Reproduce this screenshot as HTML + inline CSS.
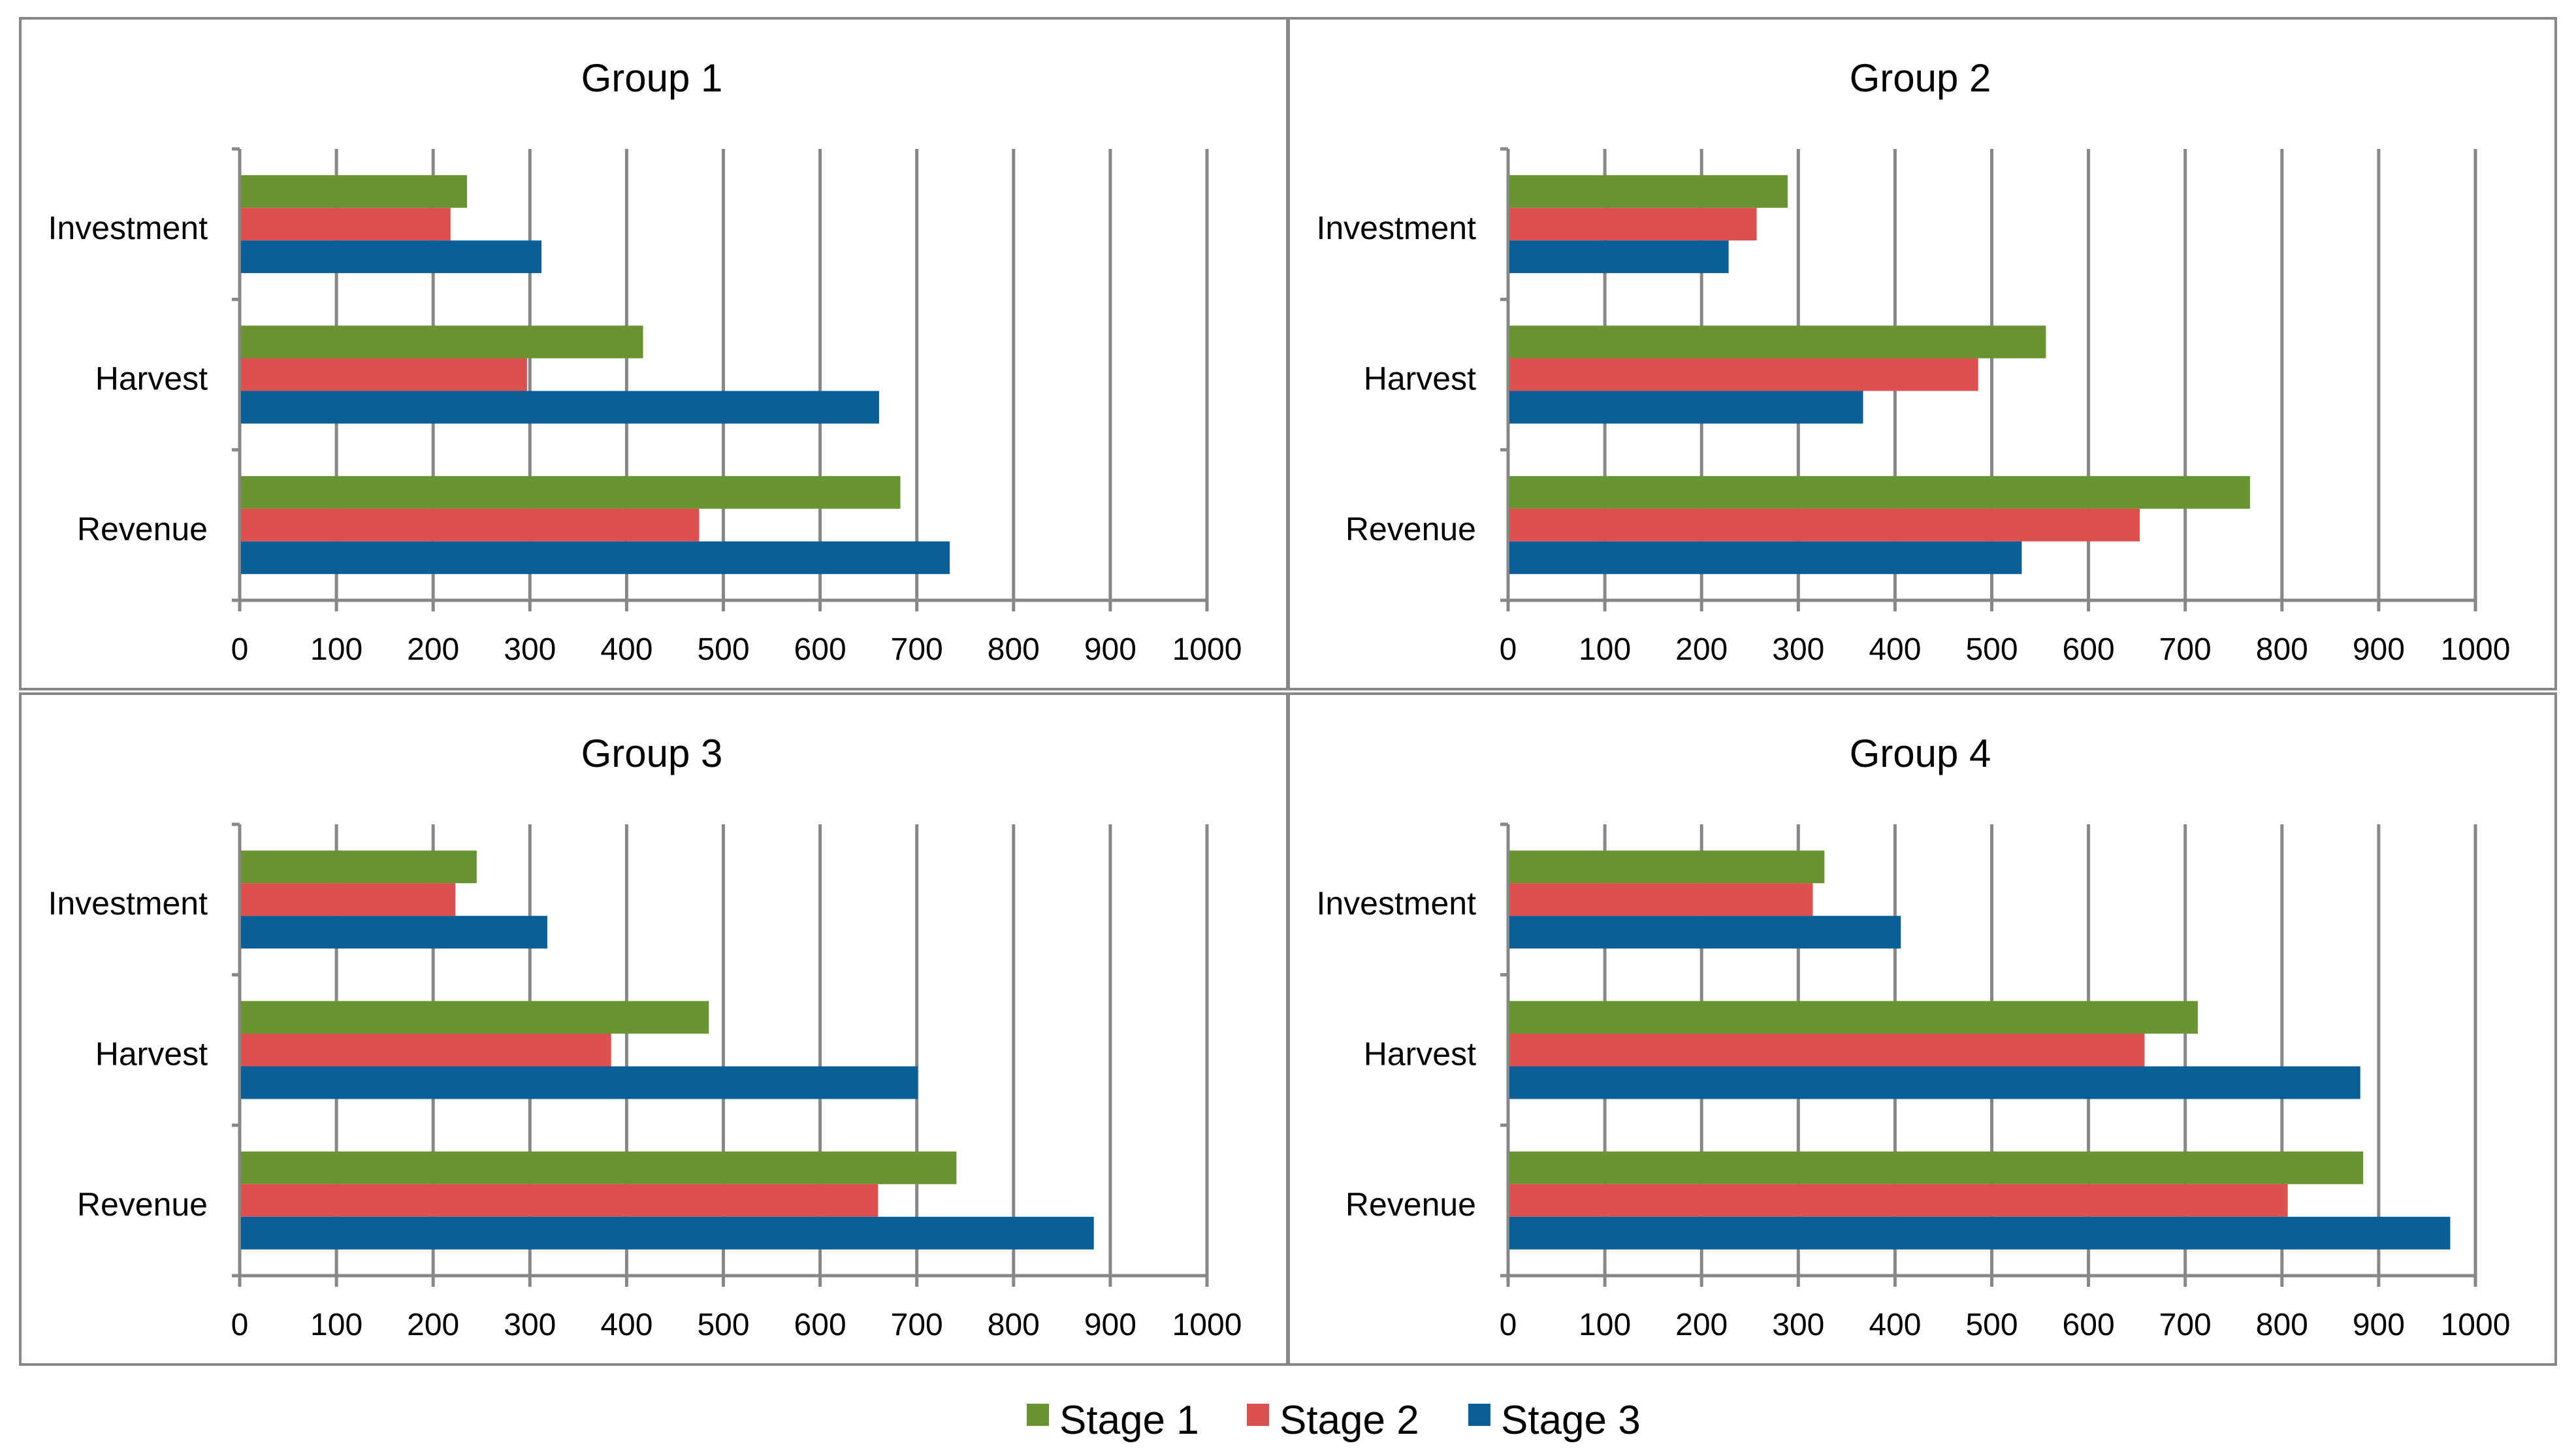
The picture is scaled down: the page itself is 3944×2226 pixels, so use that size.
<!DOCTYPE html>
<html><head><meta charset="utf-8"><style>
html,body{margin:0;padding:0;background:#fff;}
svg{display:block;font-family:"Liberation Sans",sans-serif;}
</style></head><body>
<svg id="c" width="3944" height="2226" viewBox="0 0 3944 2226" xmlns="http://www.w3.org/2000/svg"></svg>
<script>
const groups = ["Group 1","Group 2","Group 3","Group 4"];
const categories = ["Investment","Harvest","Revenue"];
const series = ["Stage 1","Stage 2","Stage 3"];
const g1Stage1 = [235,417,683];
const g1Stage2 = [218,297,475];
const g1Stage3 = [312,661,734];
const g2Stage1 = [289,556,767];
const g2Stage2 = [257,486,653];
const g2Stage3 = [228,367,531];
const g3Stage1 = [245,485,741];
const g3Stage2 = [223,384,660];
const g3Stage3 = [318,701,883];
const g4Stage1 = [327,713,884];
const g4Stage2 = [315,658,806];
const g4Stage3 = [406,881,974];
const tickValues = [0,100,200,300,400,500,600,700,800,900,1000];
const groupData = [[g1Stage1,g1Stage2,g1Stage3],[g2Stage1,g2Stage2,g2Stage3],[g3Stage1,g3Stage2,g3Stage3],[g4Stage1,g4Stage2,g4Stage3]];
const colors = ["#6a9432","#dd5050","#0a6096"];
const NS="http://www.w3.org/2000/svg";
const svg=document.getElementById('c');
function mk(tag,attrs,parent,text){const e=document.createElementNS(NS,tag);for(const k in attrs)e.setAttribute(k,attrs[k]);if(text!==undefined)e.textContent=text;(parent||svg).appendChild(e);return e;}
const offs=[[0,0],[1942,0],[0,1034],[1942,1034]];
const xMin=0,xMax=1000;
groups.forEach((gname,gi)=>{
  const [ox,oy]=offs[gi];
  const g=mk('g',{transform:`translate(${ox},${oy})`});
  
  
  const box=mk('rect',{x:31,y:28,width:1940,height:1027,fill:'none',stroke:'#878787','stroke-width':4},g);
  
  
  const t=mk('text',{x:998,y:140,'text-anchor':'middle','font-size':60,fill:'#000'},g,gname);
  
  
  const x0=367,x1=1848,top=228,bot=919;
  const xs=v=>x0+(v-xMin)/(xMax-xMin)*(x1-x0);
  const band=(bot-top)/categories.length;
  tickValues.forEach(v=>{
    const l=mk('line',{x1:xs(v),x2:xs(v),y1:top,y2:bot+17,stroke:'#878787','stroke-width':5},g);
    
    
    const tl=mk('text',{x:xs(v),y:1010,'text-anchor':'middle','font-size':48,fill:'#000'},g,String(v));
    
    
  });
  const ax=mk('line',{x1:x0,x2:x1,y1:bot,y2:bot,stroke:'#878787','stroke-width':5},g);
  
  
  const ay=mk('line',{x1:x0,x2:x0,y1:top,y2:bot,stroke:'#878787','stroke-width':5},g);
  
  
  for(let i=0;i<=categories.length;i++){
    const tk=mk('line',{x1:x0-12,x2:x0,y1:top+i*band,y2:top+i*band,stroke:'#878787','stroke-width':5},g);
    
    
  }
  const bh=50;
  categories.forEach((cat,ci)=>{
    const by=top+ci*band+(band-3*bh)/2;
    const cl=mk('text',{x:318,y:by+bh*1.5+23,'text-anchor':'end','font-size':50,fill:'#000'},g,cat);
    
    
    series.forEach((s,si)=>{
      const v=groupData[gi][si][ci];
      const r=mk('rect',{x:x0+2,y:by+si*bh,width:xs(v)-x0-2,height:bh,fill:colors[si]},g);
      
      
    });
  });
});
const legX=[1572,1909,2248];
series.forEach((s,si)=>{
  const r=mk('rect',{x:legX[si],y:2149,width:34,height:34,fill:colors[si]});
  
  
  const t=mk('text',{x:legX[si]+50,y:2195,'font-size':62,fill:'#000'},null,s);
  
  
});
</script>
</body></html>
